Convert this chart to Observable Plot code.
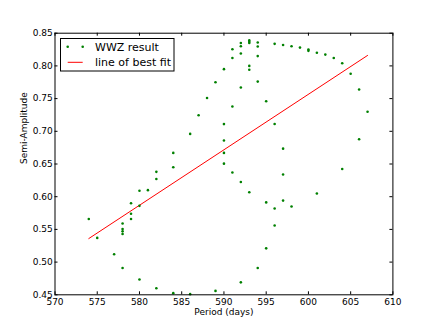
<!DOCTYPE html>
<html>
<head>
<meta charset="utf-8">
<script src="https://cdn.jsdelivr.net/npm/d3@7"></script>
<script src="https://cdn.jsdelivr.net/npm/@observablehq/plot@0.6"></script>
<style>
  html, body { margin: 0; padding: 0; background: #fff; }
  #wrap { position: relative; width: 436px; height: 327px; }
  #legend { position: absolute; left: 0; top: 0; }
</style>
</head>
<body>
<div id="wrap"></div>
<script>
// WWZ result points
const period = [
  574, 575, 577,
  578, 578, 578, 578, 578,
  579, 579, 579,
  580, 580, 580,
  581,
  582, 582, 582,
  584, 584, 584,
  586, 586,
  587, 588,
  589, 589,
  590, 590, 590, 590, 590,
  591, 591, 591, 591,
  592, 592, 592, 592, 592, 592,
  593, 593, 593, 593, 593, 593,
  594, 594, 594, 594, 594,
  595, 595, 595,
  596, 596, 596, 596,
  597, 597, 597, 597,
  598, 598,
  599,
  600, 600,
  601, 601,
  602, 603,
  604, 604,
  605,
  606, 606,
  607
];
const amplitude = [
  0.566, 0.537, 0.512,
  0.559, 0.5505, 0.547, 0.543, 0.491,
  0.590, 0.574, 0.566,
  0.609, 0.586, 0.4735,
  0.610,
  0.638, 0.627, 0.460,
  0.667, 0.645, 0.4525,
  0.696, 0.451,
  0.7245, 0.751,
  0.775, 0.456,
  0.795, 0.711, 0.686, 0.667, 0.6505,
  0.8255, 0.812, 0.738, 0.637,
  0.835, 0.830, 0.819, 0.767, 0.6225, 0.469,
  0.839, 0.837, 0.835, 0.800, 0.794, 0.6067,
  0.8357, 0.8296, 0.815, 0.776, 0.491,
  0.746, 0.5913, 0.521,
  0.8337, 0.7112, 0.582, 0.556,
  0.832, 0.6735, 0.634, 0.594,
  0.830, 0.585,
  0.828,
  0.825, 0.823,
  0.820, 0.605,
  0.8173, 0.812,
  0.804, 0.6423,
  0.788,
  0.764, 0.6878,
  0.730
];
// line of best fit endpoints
const fitPeriod = [574, 607];
const fitAmplitude = [0.536, 0.816];

const xTicks = [570, 575, 580, 585, 590, 595, 600, 605, 610];
const yTicks = [0.45, 0.50, 0.55, 0.60, 0.65, 0.70, 0.75, 0.80, 0.85];
const seriesNames = ["WWZ result", "line of best fit"];
const xLabel = "Period (days)";
const yLabel = "Semi-Amplitude";

const points = period.map((p, i) => ({p, a: amplitude[i]}));
const fit = fitPeriod.map((p, i) => ({p, a: fitAmplitude[i]}));

const W = 436, H = 327;
const mL = 54.5, mR = 43.6, mT = 32.7, mB = 32.7;
const innerW = W - mL - mR, innerH = H - mT - mB;
const tk = 3;

const chart = Plot.plot({
  width: W, height: H,
  marginLeft: mL, marginRight: mR, marginTop: mT, marginBottom: mB,
  style: {fontFamily: "'DejaVu Sans', sans-serif", fontSize: "9px", background: "#fff", color: "#000"},
  x: {domain: [570, 610]},
  y: {domain: [0.45, 0.85]},
  marks: [
    Plot.line(fit, {x: "p", y: "a", stroke: "#ff0000", strokeWidth: 1}),
    Plot.dot(points, {x: "p", y: "a", r: 1.3, fill: "#008000", stroke: "none"}),
    Plot.frame({stroke: "#000", strokeWidth: 1}),
    // inward ticks on all four sides
    Plot.tickX(xTicks, {x: d => d, insetTop: innerH - tk, stroke: "#000"}),
    Plot.tickX(xTicks, {x: d => d, insetBottom: innerH - tk, stroke: "#000"}),
    Plot.tickY(yTicks, {y: d => d, insetRight: innerW - tk, stroke: "#000"}),
    Plot.tickY(yTicks, {y: d => d, insetLeft: innerW - tk, stroke: "#000"}),
    Plot.axisX({ticks: xTicks, tickSize: 0, tickPadding: 3.5, label: null, tickFormat: d3.format("d")}),
    Plot.axisY({ticks: yTicks, tickSize: 0, tickPadding: 2.2, label: null, tickFormat: d3.format(".2f")}),
    Plot.text([xLabel], {text: d => d, frameAnchor: "bottom", dy: 17.4, lineAnchor: "middle"}),
    Plot.text([yLabel], {text: d => d, frameAnchor: "left", dx: -30.5, rotate: -90, lineAnchor: "middle"})
  ]
});

const wrap = document.getElementById("wrap");
wrap.appendChild(chart);

// legend overlay (inside the plot area, upper left)
const ns = "http://www.w3.org/2000/svg";
const lg = document.createElementNS(ns, "svg");
lg.setAttribute("id", "legend");
lg.setAttribute("width", W);
lg.setAttribute("height", H);
lg.style.fontFamily = "'DejaVu Sans', sans-serif";
function el(tag, attrs, text) {
  const e = document.createElementNS(ns, tag);
  for (const k in attrs) e.setAttribute(k, attrs[k]);
  if (text != null) e.textContent = text;
  lg.appendChild(e);
  return e;
}
el("rect", {x: 60.5, y: 38.5, width: 113.5, height: 32.5, fill: "#fff", stroke: "#000", "stroke-width": 1});
el("circle", {cx: 67.7, cy: 46.7, r: 1.3, fill: "#008000"});
el("circle", {cx: 82.7, cy: 46.7, r: 1.3, fill: "#008000"});
el("text", {x: 95, y: 50.7, "font-size": 11, fill: "#000"}, seriesNames[0]);
el("line", {x1: 67.7, x2: 82.7, y1: 62.3, y2: 62.3, stroke: "#ff0000", "stroke-width": 1});
el("text", {x: 95, y: 66.3, "font-size": 11, fill: "#000"}, seriesNames[1]);
wrap.appendChild(lg);
</script>
</body>
</html>
